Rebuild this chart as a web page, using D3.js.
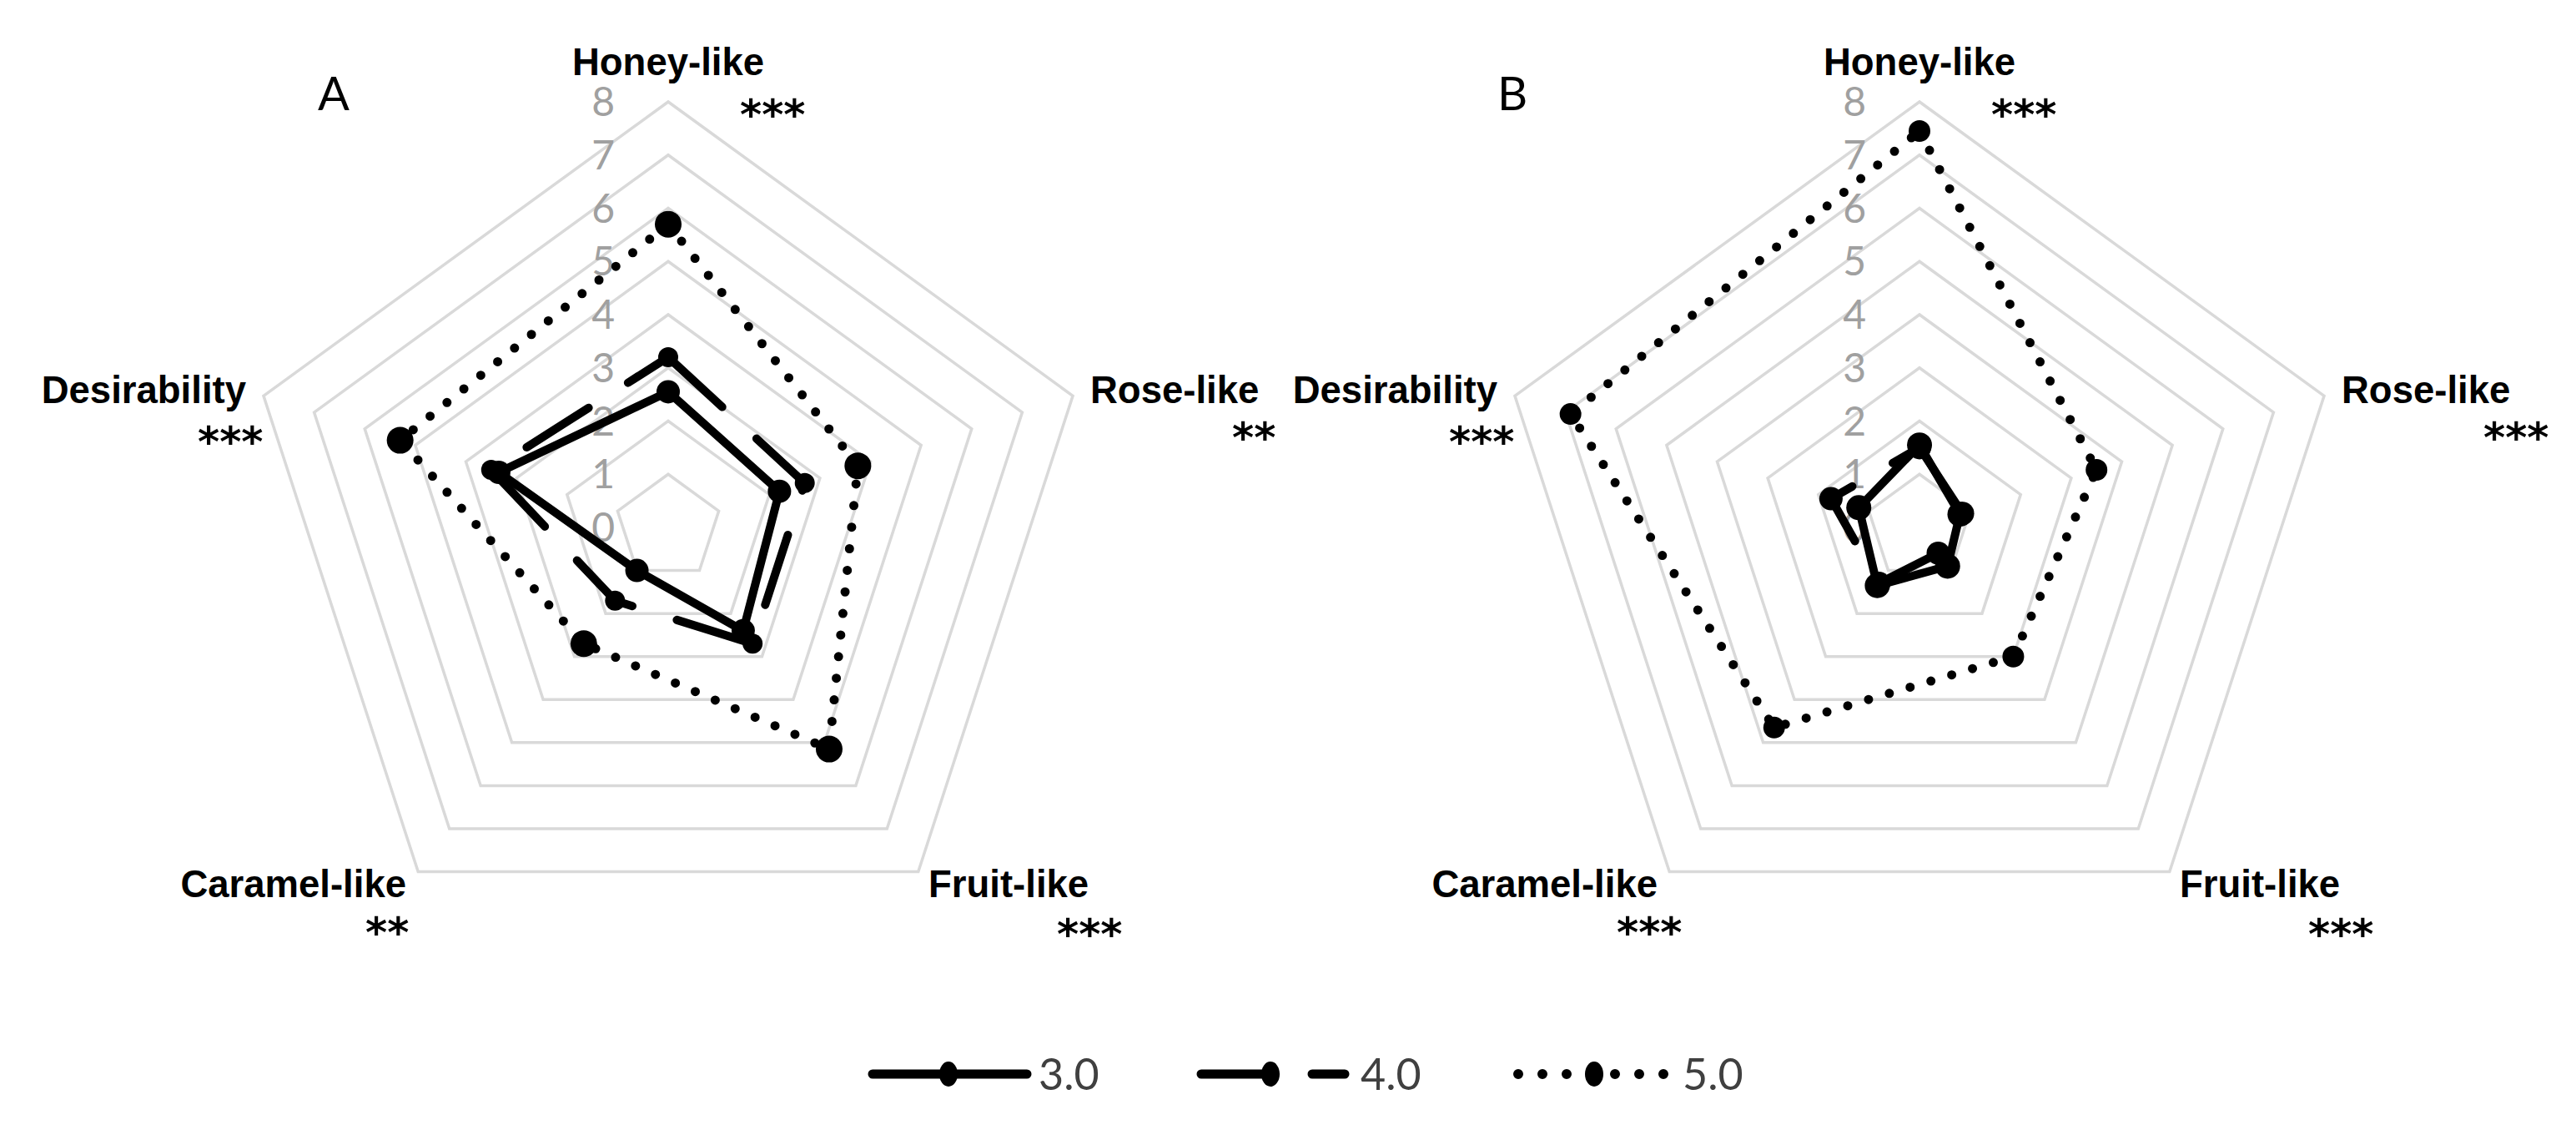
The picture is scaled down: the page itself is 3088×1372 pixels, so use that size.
<!DOCTYPE html>
<html>
<head>
<meta charset="utf-8">
<script src="https://cdn.jsdelivr.net/npm/d3@7/dist/d3.min.js"></script>
<style>
  body { margin: 0; background: #fff; }
  svg { display: block; }
</style>
</head>
<body>
<div id="chart"></div>
<script>
//Chart data
var categories = ['Honey-like', 'Rose-like', 'Fruit-like', 'Caramel-like', 'Desirability'];
var seriesNames = ['3.0', '4.0', '5.0'];
var levels = [0, 1, 2, 3, 4, 5, 6, 7, 8];

var sigA = ['***', '**', '***', '**', '***'];
var sigB = ['***', '***', '***', '***', '***'];

var valuesA30 = [2.55, 2.2, 2.4, 1.0, 3.35];
var valuesA40 = [3.2, 2.7, 2.7, 1.7, 3.5];
var valuesA50 = [5.7, 3.75, 5.15, 2.7, 5.3];

var valuesB30 = [1.55, 0.8, 0.9, 1.35, 1.2];
var valuesB40 = [1.5, 0.85, 0.6, 1.3, 1.75];
var valuesB50 = [7.45, 3.5, 3.0, 4.65, 6.9];

//Line styles per series
var styles = {
	'3.0': { dash: null, width: 10 },
	'4.0': { dash: '88 56', width: 10 },
	'5.0': { dash: '0 26', width: 11 }
};

var W = 3088, H = 1372;

var svg = d3.select('#chart').append('svg')
	.attr('width', W)
	.attr('height', H);

svg.append('rect').attr('width', W).attr('height', H).attr('fill', '#fff');

var rScale = d3.scaleLinear().domain([0, 8]).range([0, 510]);
var angle = function(i) { return i * 2 * Math.PI / categories.length; };

drawRadar({ cx: 801, cy: 632, letter: 'A', letterX: 381, sig: sigA,
	series: [valuesA30, valuesA40, valuesA50], markerR: [14, 12, 16] });
drawRadar({ cx: 2301, cy: 632, letter: 'B', letterX: 1795, sig: sigB,
	series: [valuesB30, valuesB40, valuesB50], markerR: [15, 14, 13] });
drawLegend();

//One radar panel
function drawRadar(p) {
	var g = svg.append('g').attr('transform', 'translate(' + p.cx + ',' + p.cy + ')');

	//Grid pentagons
	var ring = d3.lineRadial()
		.angle(function(d, i) { return angle(i); })
		.radius(function(d) { return rScale(d); })
		.curve(d3.curveLinearClosed);

	g.selectAll('path.grid')
		.data(levels.slice(1))
		.enter()
		.append('path')
		.attr('class', 'grid')
		.attr('d', function(l) { return ring(categories.map(function() { return l; })); })
		.attr('fill', 'none')
		.attr('stroke', '#d9d9d9')
		.attr('stroke-width', 3.5);

	//Axis tick labels
	g.selectAll('text.tick')
		.data(levels)
		.enter()
		.append('text')
		.attr('class', 'tick')
		.attr('x', -64)
		.attr('y', function(d) { return -rScale(d) + 17; })
		.attr('text-anchor', 'end')
		.attr('fill', '#a0a0a0')
		.style('font-family', 'Lato, sans-serif')
		.style('font-size', '48px')
		.text(function(d) { return d; });

	//Series
	var line = d3.lineRadial()
		.angle(function(d, i) { return angle(i); })
		.radius(function(d) { return rScale(d); })
		.curve(d3.curveLinearClosed);

	p.series.forEach(function(vals, s) {
		var st = styles[seriesNames[s]];
		g.append('path')
			.attr('d', line(vals))
			.attr('fill', 'none')
			.attr('stroke', '#000')
			.attr('stroke-width', st.width)
			.attr('stroke-linecap', 'round')
			.attr('stroke-linejoin', 'round')
			.attr('stroke-dasharray', st.dash);

		g.selectAll('circle.m' + s)
			.data(vals)
			.enter()
			.append('circle')
			.attr('class', 'm' + s)
			.attr('cx', function(d, i) { return rScale(d) * Math.sin(angle(i)); })
			.attr('cy', function(d, i) { return -rScale(d) * Math.cos(angle(i)); })
			.attr('r', p.markerR[s])
			.attr('fill', '#000');
	});

	//Category labels
	var lab = [
		{ x: 0, y: 90 - p.cy, anchor: 'middle', sx: 86, sy: 155 - p.cy },
		{ x: 506, y: 483 - p.cy, anchor: 'start', sx: 676, sy: 542 - p.cy },
		{ x: 312, y: 1075 - p.cy, anchor: 'start', sx: 466, sy: 1137 - p.cy },
		{ x: -314, y: 1075 - p.cy, anchor: 'end', sx: -363, sy: 1135 - p.cy },
		{ x: -506, y: 483 - p.cy, anchor: 'end', sx: -564, sy: 547 - p.cy }
	];

	g.selectAll('text.cat')
		.data(categories)
		.enter()
		.append('text')
		.attr('class', 'cat')
		.attr('x', function(d, i) { return lab[i].x; })
		.attr('y', function(d, i) { return lab[i].y; })
		.attr('text-anchor', function(d, i) { return lab[i].anchor; })
		.style('font-family', '"Liberation Sans", Arial, sans-serif')
		.style('font-weight', 'bold')
		.style('font-size', '45.5px')
		.text(function(d) { return d; });

	g.selectAll('text.sig')
		.data(p.sig)
		.enter()
		.append('text')
		.attr('class', 'sig')
		.attr('x', function(d, i) { return lab[i].sx; })
		.attr('y', function(d, i) { return lab[i].sy; })
		.style('font-family', '"DejaVu Sans", sans-serif')
		.style('font-weight', 'bold')
		.style('font-size', '50px')
		.text(function(d) { return d; });

	//Panel letter
	svg.append('text')
		.attr('x', p.letterX)
		.attr('y', 132)
		.style('font-family', 'Lato, sans-serif')
		.style('font-size', '56px')
		.text(p.letter);
}

//Legend along the bottom
function drawLegend() {
	var y = 1287;
	var items = [
		{ x1: 1046, x2: 1231, mx: 1137, tx: 1245, dash: null },
		{ x1: 1440, x2: 1612, mx: 1523, tx: 1631, dash: '78 55' },
		{ x1: 1820, x2: 1996, mx: 1911, tx: 2017, dash: '0 29' }
	];
	var lg = svg.append('g');
	seriesNames.forEach(function(name, i) {
		var it = items[i];
		lg.append('line')
			.attr('x1', it.x1).attr('x2', it.x2)
			.attr('y1', y).attr('y2', y)
			.attr('stroke', '#000')
			.attr('stroke-width', styles[name].width + 1)
			.attr('stroke-linecap', 'round')
			.attr('stroke-dasharray', it.dash);
		lg.append('ellipse')
			.attr('cx', it.mx).attr('cy', y)
			.attr('rx', 11).attr('ry', 15)
			.attr('fill', '#000');
		lg.append('text')
			.attr('x', it.tx)
			.attr('y', y + 19)
			.attr('fill', '#404040')
			.style('font-family', 'Lato, sans-serif')
			.style('font-size', '52px')
			.text(name);
	});
}
</script>
</body>
</html>
